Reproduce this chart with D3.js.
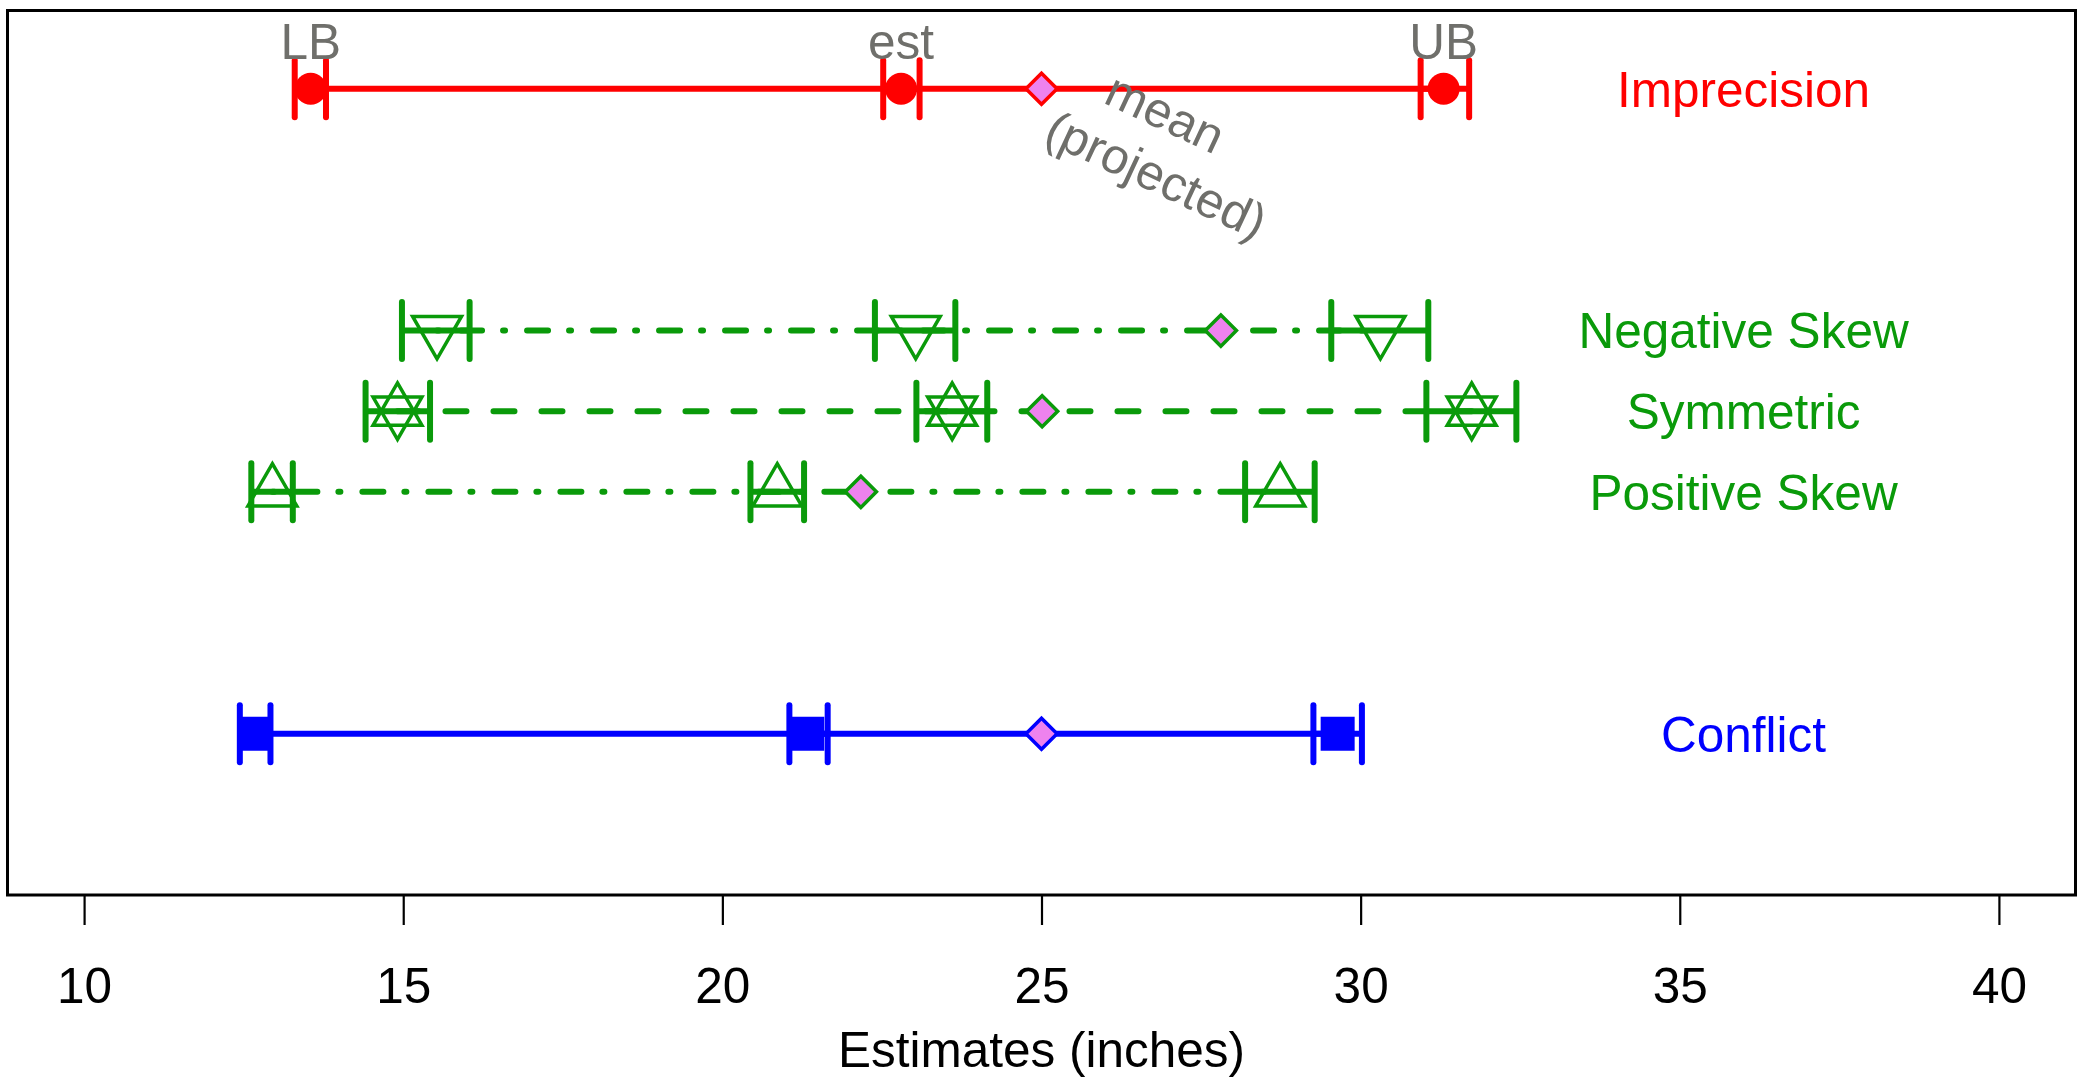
<!DOCTYPE html>
<html>
<head>
<meta charset="utf-8">
<title>Estimates (inches)</title>
<script src="https://d3js.org/d3.v7.min.js"></script>
<style>
  body { margin: 0; background: #fff; }
  svg text { font-family: "Liberation Sans", Arial, sans-serif; }
</style>
</head>
<body>
<div id="chart"></div>
<script>
// rows, top to bottom, with their place on the y scale
var rowNames = ["Imprecision", "Negative Skew", "Symmetric", "Positive Skew", "Conflict"];
var rowPos = [8, 5, 4, 3, 0];

// lower bound, estimate and upper bound, each drawn with its own small interval
var lbLo  = [13.30, 14.98, 14.41, 12.62, 12.44];
var lbVal = [13.55, 15.53, 14.91, 12.95, 12.67];
var lbHi  = [13.79, 16.04, 15.42, 13.27, 12.92];

var estLo  = [22.52, 22.39, 23.04, 20.44, 21.05];
var estVal = [22.80, 23.03, 23.60, 20.86, 21.33];
var estHi  = [23.09, 23.65, 24.15, 21.28, 21.65];

var ubLo  = [30.94, 29.54, 31.03, 28.19, 29.26];
var ubVal = [31.30, 30.31, 31.74, 28.74, 29.64];
var ubHi  = [31.70, 31.06, 32.44, 29.28, 30.02];

// projected mean
var meanVal = [25.0, 27.81, 25.01, 22.17, 25.0];

var xTicks = [10, 15, 20, 25, 30, 35, 40];
var xTitle = "Estimates (inches)";
var pointTags = ["LB", "est", "UB"];
var meanNote = ["mean", "(projected)"];
var meanNoteAt = [26.85, 7.28];
var labelX = 36;

// look of each row
var green = "#0a9a0a";
var grey = "#6f6f6b";
var rowColor = ["#ff0000", green, green, green, "#0000ff"];
var rowDash = [null, "2 22 21 21", "21 27", "2 22 21 21", null];
var rowMark = ["circle", "down", "star", "up", "square"];

var W = 2085, H = 1092;
var svg = d3.select("#chart").append("svg")
    .attr("width", W).attr("height", H)
    .style("display", "block");

var x = d3.scaleLinear().domain([8.8, 41.2]).range([7.5, 2075.5]);
var y = d3.scaleLinear().domain([-2, 8.97]).range([895, 10.5]);

// points, one object per marker
var groups = [[lbLo, lbVal, lbHi], [estLo, estVal, estHi], [ubLo, ubVal, ubHi]];
var pts = [];
rowNames.forEach(function (name, i) {
  groups.forEach(function (g, k) {
    pts.push({ row: i, k: k, lo: g[0][i], v: g[1][i], hi: g[2][i] });
  });
});

// long line from LB to UB
var line = d3.line().x(function (d) { return x(d[0]); }).y(function (d) { return y(d[1]); });
svg.append("g").selectAll("path")
  .data(rowNames)
  .join("path")
    .attr("d", function (d, i) { return line([[lbVal[i], rowPos[i]], [ubVal[i], rowPos[i]]]); })
    .attr("fill", "none")
    .attr("stroke", function (d, i) { return rowColor[i]; })
    .attr("stroke-width", 6)
    .attr("stroke-linecap", "round")
    .attr("stroke-dasharray", function (d, i) { return rowDash[i]; });

// solid piece between the caps
svg.append("g").selectAll("line")
  .data(pts)
  .join("line")
    .attr("x1", function (d) { return x(d.lo); })
    .attr("x2", function (d) { return x(d.hi); })
    .attr("y1", function (d) { return y(rowPos[d.row]); })
    .attr("y2", function (d) { return y(rowPos[d.row]); })
    .attr("stroke", function (d) { return rowColor[d.row]; })
    .attr("stroke-width", 6);

// caps
var caps = [];
pts.forEach(function (p) { caps.push({ row: p.row, v: p.lo }); caps.push({ row: p.row, v: p.hi }); });
svg.append("g").selectAll("line")
  .data(caps)
  .join("line")
    .attr("x1", function (d) { return x(d.v); })
    .attr("x2", function (d) { return x(d.v); })
    .attr("y1", function (d) { return y(rowPos[d.row]) - 28.5; })
    .attr("y2", function (d) { return y(rowPos[d.row]) + 28.5; })
    .attr("stroke", function (d) { return rowColor[d.row]; })
    .attr("stroke-width", 6)
    .attr("stroke-linecap", "round");

// markers
var circleSym = d3.symbol().type(d3.symbolCircle).size(Math.PI * 16 * 16);
var squareSym = d3.symbol().type(d3.symbolSquare).size(34 * 34);
var triSym = d3.symbol().type(d3.symbolTriangle).size(1035);
var marks = svg.append("g");
pts.forEach(function (p) {
  var kind = rowMark[p.row];
  var c = rowColor[p.row];
  var tr = "translate(" + x(p.v) + "," + y(rowPos[p.row]) + ")";
  if (kind === "circle") {
    marks.append("path").attr("d", circleSym()).attr("transform", tr).attr("fill", c);
  } else if (kind === "square") {
    marks.append("path").attr("d", squareSym()).attr("transform", tr).attr("fill", c);
  } else {
    if (kind === "up" || kind === "star") {
      marks.append("path").attr("d", triSym()).attr("transform", tr)
        .attr("fill", "none").attr("stroke", c).attr("stroke-width", 3.5);
    }
    if (kind === "down" || kind === "star") {
      marks.append("path").attr("d", triSym()).attr("transform", tr + " rotate(180)")
        .attr("fill", "none").attr("stroke", c).attr("stroke-width", 3.5);
    }
  }
});

// mean diamonds
var diamondSym = d3.symbol().type(d3.symbolSquare).size(22 * 22);
svg.append("g").selectAll("path")
  .data(meanVal)
  .join("path")
    .attr("d", diamondSym())
    .attr("transform", function (d, i) { return "translate(" + x(d) + "," + y(rowPos[i]) + ") rotate(45)"; })
    .attr("fill", "#ee82ee")
    .attr("stroke", function (d, i) { return rowColor[i]; })
    .attr("stroke-width", 3.5);

// row labels
svg.append("g").selectAll("text")
  .data(rowNames)
  .join("text")
    .attr("x", x(labelX))
    .attr("y", function (d, i) { return y(rowPos[i]); })
    .attr("dy", "0.36em")
    .attr("text-anchor", "middle")
    .attr("font-size", 49.5)
    .attr("fill", function (d, i) { return rowColor[i]; })
    .text(function (d) { return d; });

// LB / est / UB above the first row
var tagVals = [lbVal[0], estVal[0], ubVal[0]];
svg.append("g").selectAll("text")
  .data(pointTags)
  .join("text")
    .attr("x", function (d, i) { return x(tagVals[i]); })
    .attr("y", y(rowPos[0]) - 30)
    .attr("text-anchor", "middle")
    .attr("font-size", 49.5)
    .attr("fill", grey)
    .text(function (d) { return d; });

// rotated note by the mean
var note = svg.append("g")
  .attr("transform", "translate(" + x(meanNoteAt[0]) + "," + y(meanNoteAt[1]) + ") rotate(25)");
note.selectAll("text")
  .data(meanNote)
  .join("text")
    .attr("x", function (d, i) { return i === 0 ? -9 : 9; })
    .attr("y", function (d, i) { return i === 0 ? -16 : 44; })
    .attr("text-anchor", "middle")
    .attr("font-size", 49.5)
    .attr("fill", grey)
    .text(function (d) { return d; });

// box
svg.append("rect")
  .attr("x", x(8.8)).attr("y", y(8.97))
  .attr("width", x(41.2) - x(8.8)).attr("height", y(-2) - y(8.97))
  .attr("fill", "none").attr("stroke", "#000").attr("stroke-width", 3);

// x axis
var ax = svg.append("g")
  .attr("transform", "translate(0," + y(-2) + ")")
  .call(d3.axisBottom(x).tickValues(xTicks).tickSize(30).tickPadding(43).tickFormat(d3.format("d")));
ax.select(".domain").remove();
ax.selectAll(".tick line").attr("stroke", "#000").attr("stroke-width", 2.2);
ax.selectAll(".tick text")
  .attr("font-size", 49.5)
  .attr("fill", "#000")
  .style("font-family", "'Liberation Sans', Arial, sans-serif");

svg.append("text")
  .attr("x", x(25)).attr("y", 1067)
  .attr("text-anchor", "middle")
  .attr("font-size", 49.5)
  .attr("fill", "#000")
  .text(xTitle);
</script>
</body>
</html>
